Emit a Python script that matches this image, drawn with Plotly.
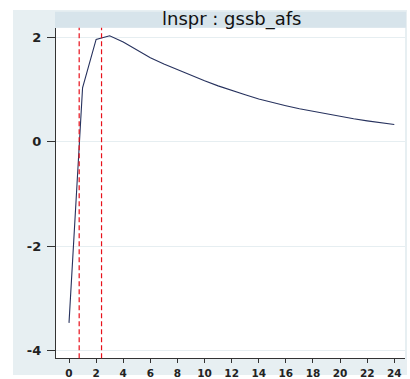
import plotly.graph_objects as go

# Impulse response: lnspr : gssb_afs
steps = list(range(0, 25))
response = [-3.47, 1.03, 1.96, 2.03, 1.91, 1.76, 1.61, 1.49, 1.38, 1.27,
            1.17, 1.07, 0.98, 0.90, 0.82, 0.75, 0.69, 0.63, 0.58, 0.53,
            0.48, 0.44, 0.40, 0.36, 0.33]
marker_steps = [0.75, 2.4]
x_ticks = list(range(0, 25, 2))
y_ticks = [-4, -2, 0, 2]
title_text = "lnspr : gssb_afs"

W, H = 410, 379


def fx(px):
    """pixel column -> paper x (margins are zero, so paper == figure)"""
    return px / W


def fy(py):
    """pixel row from top -> paper y"""
    return (H - py) / H


PANEL = "#e7eff2"
STRIP = "#d7e4eb"

fig = go.Figure()
fig.add_trace(go.Scatter(
    x=steps, y=response, mode="lines",
    line=dict(color="#27325e", width=1.1),
    showlegend=False, hoverinfo="skip",
))

shapes = [
    # light panel behind the graph
    dict(type="rect", xref="paper", yref="paper", x0=fx(13), x1=fx(407),
         y0=0, y1=fy(10), fillcolor=PANEL, line=dict(width=0), layer="below"),
    # white plotting region
    dict(type="rect", xref="x domain", yref="y domain", x0=0, x1=1, y0=0, y1=1,
         fillcolor="white", line=dict(width=0), layer="below"),
    # title strip
    dict(type="rect", xref="paper", yref="paper", x0=fx(55), x1=fx(406),
         y0=fy(28), y1=fy(12), fillcolor=STRIP, line=dict(width=0), layer="below"),
]
for xv in marker_steps:
    shapes.append(dict(type="line", xref="x", yref="y domain", x0=xv, x1=xv, y0=0, y1=1,
                       line=dict(color="#e8101a", width=1.2, dash="5px,3px"), layer="above"))

fig.update_layout(
    width=W, height=H,
    margin=dict(l=0, r=0, t=0, b=0),
    paper_bgcolor="white", plot_bgcolor="white",
    font=dict(family="DejaVu Sans, Liberation Sans, sans-serif", color="#111111"),
    shapes=shapes,
    annotations=[dict(text=title_text, xref="paper", yref="paper",
                      x=fx(232), y=fy(19.5), xanchor="center", yanchor="middle",
                      showarrow=False, font=dict(size=18, color="#111111"))],
    xaxis=dict(domain=[fx(56), fx(405)], range=[-0.96, 24.79], tickvals=x_ticks,
               showgrid=False, zeroline=False,
               showline=True, linecolor="#333333", linewidth=1.2,
               ticks="outside", ticklen=4, tickcolor="#333333",
               tickfont=dict(size=10.5, weight="bold", color="#222222"),
               ticklabelstandoff=1, fixedrange=True),
    yaxis=dict(domain=[fy(362), fy(28)], range=[-4.146, 2.184], tickvals=y_ticks,
               ticktext=["-4", "-2", "0", "2"],
               showgrid=True, gridcolor="#e6eef1", gridwidth=1, zeroline=False,
               showline=True, linecolor="#333333", linewidth=1.2,
               ticks="outside", ticklen=8, tickcolor="#333333",
               tickfont=dict(size=13, weight="bold", color="#222222"),
               ticklabelstandoff=3, fixedrange=True),
)

fig.write_html("out.html")
